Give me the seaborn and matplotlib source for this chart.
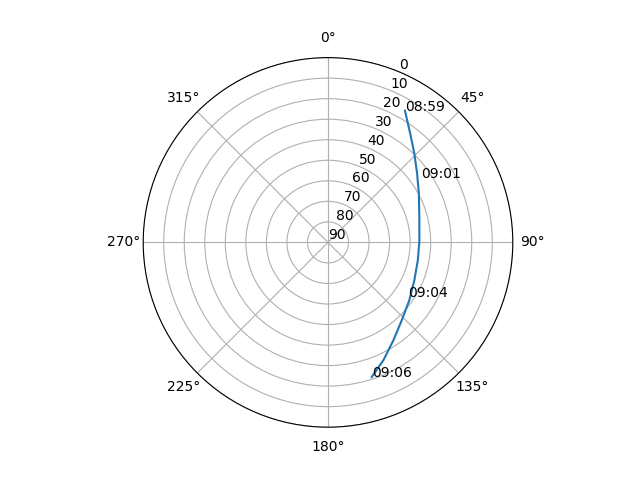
import numpy as np
import pandas as pd
import seaborn as sns
import matplotlib
matplotlib.use('Agg')
import matplotlib.pyplot as plt

# satellite pass track (azimuth deg, elevation deg)
azimuth = [30.3, 37.0, 44.1, 52.2, 61.6, 74.3, 89.2, 101.2, 113.6, 125.4, 136.5, 146.2, 154.8, 162.0]
elevation = [15.7, 23.5, 29.6, 35.1, 39.7, 43.8, 45.5, 45.4, 44.1, 41.4, 37.8, 32.7, 26.6, 21.1]

# time labels along the pass
label_az = [30.5, 55.0, 124.1, 162.0]
label_el = [15.6, 34.9, 42.7, 21.2]
label_txt = ['08:59', '09:01', '09:04', '09:06']

data = pd.DataFrame({'theta': np.radians(azimuth), 'el': elevation})

fig = plt.figure(figsize=(6.4, 4.8), dpi=100)
ax = fig.add_subplot(111, projection='polar')
ax.set_theta_zero_location('N')
ax.set_theta_direction(-1)

sns.lineplot(x='theta', y='el', data=data, ax=ax, sort=False, color='tab:blue')
for a, e, t in zip(label_az, label_el, label_txt):
    ax.text(np.radians(a), e, t)

ax.set_rlim(90, 0)
ax.set_yticks(range(0, 91, 10))
ax.set_xlabel('')
ax.set_ylabel('')

fig.savefig('out.png')
